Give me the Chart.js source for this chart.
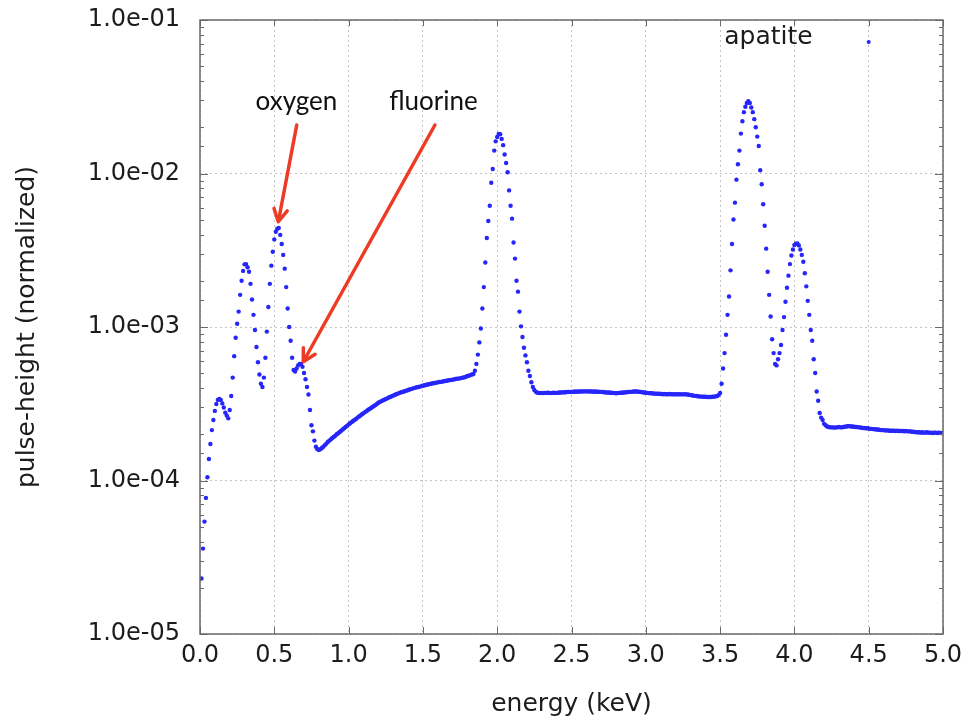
<!DOCTYPE html>
<html>
<head>
<meta charset="utf-8">
<title>apatite pulse-height spectrum</title>
<script src="https://cdn.jsdelivr.net/npm/chart.js@4.4.1/dist/chart.umd.min.js"></script>
<style>
  html, body { margin: 0; padding: 0; background: #fff; }
  canvas { display: block; }
</style>
</head>
<body>
<canvas id="spectrum" width="972" height="719"></canvas>
<script>
// energy channels: first channel at 0.01 keV, 0.01 keV wide
const channelStart = 0.01;
const channelWidth = 0.01;

// 0.01 - 0.80 keV (C, O, F lines)
const lowEnergyCounts = [
    2.3e-5, 3.6e-5, 5.4e-5, 7.7e-5, 1.05e-4, 1.38e-4, 1.73e-4, 2.13e-4, 2.48e-4, 2.84e-4,
    3.15e-4, 3.35e-4, 3.4e-4, 3.35e-4, 3.18e-4, 2.99e-4, 2.77e-4, 2.65e-4, 2.54e-4, 2.88e-4,
    3.55e-4, 4.68e-4, 6.46e-4, 8.51e-4, 1.05e-3, 1.26e-3, 1.62e-3, 2.0e-3, 2.32e-3, 2.56e-3,
    2.57e-3, 2.45e-3, 2.29e-3, 1.91e-3, 1.51e-3, 1.2e-3, 9.55e-4, 7.41e-4, 5.89e-4, 4.9e-4,
    4.27e-4, 4.07e-4, 4.68e-4, 6.31e-4, 9.33e-4, 1.35e-3, 1.91e-3, 2.51e-3, 3.09e-3, 3.72e-3,
    4.17e-3, 4.37e-3, 4.42e-3, 3.98e-3, 3.47e-3, 2.95e-3, 2.4e-3, 1.82e-3, 1.32e-3, 1.0e-3,
    8.13e-4, 6.31e-4, 5.25e-4, 5.13e-4, 5.37e-4, 5.62e-4, 5.75e-4, 5.75e-4, 5.5e-4, 5.01e-4,
    4.57e-4, 4.07e-4, 3.63e-4, 2.88e-4, 2.29e-4, 2.09e-4, 1.82e-4, 1.66e-4, 1.6e-4, 1.58e-4
];

// 0.81 - 1.84 keV continuum
const continuumCounts = [
    1.6e-4, 1.63e-4, 1.66e-4, 1.7e-4, 1.74e-4, 1.78e-4, 1.82e-4, 1.85e-4, 1.89e-4, 1.92e-4,
    1.96e-4, 2.0e-4, 2.03e-4, 2.07e-4, 2.11e-4, 2.15e-4, 2.19e-4, 2.23e-4, 2.27e-4, 2.32e-4,
    2.36e-4, 2.4e-4, 2.44e-4, 2.48e-4, 2.52e-4, 2.57e-4, 2.61e-4, 2.65e-4, 2.7e-4, 2.74e-4,
    2.79e-4, 2.83e-4, 2.88e-4, 2.92e-4, 2.96e-4, 3.01e-4, 3.06e-4, 3.1e-4, 3.15e-4, 3.21e-4,
    3.25e-4, 3.29e-4, 3.32e-4, 3.36e-4, 3.39e-4, 3.43e-4, 3.47e-4, 3.5e-4, 3.54e-4, 3.57e-4,
    3.61e-4, 3.65e-4, 3.68e-4, 3.71e-4, 3.74e-4, 3.77e-4, 3.79e-4, 3.83e-4, 3.85e-4, 3.89e-4,
    3.92e-4, 3.94e-4, 3.97e-4, 4.0e-4, 4.03e-4, 4.05e-4, 4.07e-4, 4.09e-4, 4.12e-4, 4.14e-4,
    4.17e-4, 4.19e-4, 4.22e-4, 4.24e-4, 4.26e-4, 4.28e-4, 4.3e-4, 4.32e-4, 4.34e-4, 4.36e-4,
    4.38e-4, 4.39e-4, 4.41e-4, 4.43e-4, 4.45e-4, 4.47e-4, 4.49e-4, 4.51e-4, 4.52e-4, 4.54e-4,
    4.56e-4, 4.58e-4, 4.6e-4, 4.61e-4, 4.63e-4, 4.66e-4, 4.68e-4, 4.71e-4, 4.74e-4, 4.79e-4,
    4.82e-4, 4.86e-4, 4.9e-4, 4.94e-4
];

// 1.85 - 2.27 keV (P K line)
const phosphorusCounts = [
    5.19e-4, 5.75e-4, 6.61e-4, 7.94e-4, 9.77e-4, 1.32e-3, 1.82e-3, 2.63e-3, 3.8e-3, 4.9e-3,
    6.17e-3, 8.71e-3, 1.07e-2, 1.41e-2, 1.62e-2, 1.73e-2, 1.81e-2, 1.8e-2, 1.68e-2, 1.53e-2,
    1.33e-2, 1.17e-2, 1.02e-2, 7.76e-3, 6.17e-3, 5.08e-3, 3.55e-3, 2.79e-3, 2.0e-3, 1.7e-3,
    1.26e-3, 1.01e-3, 8.61e-4, 7.33e-4, 6.53e-4, 5.89e-4, 5.19e-4, 4.79e-4, 4.37e-4, 4.07e-4,
    3.89e-4, 3.78e-4, 3.73e-4
];

// 2.28 - 3.48 keV plateau
const plateauCounts = [
    3.72e-4, 3.71e-4, 3.72e-4, 3.71e-4, 3.72e-4, 3.72e-4, 3.73e-4, 3.72e-4, 3.71e-4, 3.72e-4,
    3.73e-4, 3.72e-4, 3.72e-4, 3.73e-4, 3.74e-4, 3.74e-4, 3.75e-4, 3.76e-4, 3.76e-4, 3.77e-4,
    3.78e-4, 3.77e-4, 3.78e-4, 3.79e-4, 3.79e-4, 3.8e-4, 3.79e-4, 3.8e-4, 3.8e-4, 3.81e-4,
    3.8e-4, 3.81e-4, 3.81e-4, 3.8e-4, 3.81e-4, 3.8e-4, 3.8e-4, 3.79e-4, 3.8e-4, 3.79e-4,
    3.79e-4, 3.78e-4, 3.78e-4, 3.77e-4, 3.76e-4, 3.75e-4, 3.74e-4, 3.74e-4, 3.73e-4, 3.73e-4,
    3.72e-4, 3.71e-4, 3.7e-4, 3.71e-4, 3.72e-4, 3.73e-4, 3.73e-4, 3.74e-4, 3.75e-4, 3.76e-4,
    3.77e-4, 3.78e-4, 3.78e-4, 3.79e-4, 3.8e-4, 3.8e-4, 3.8e-4, 3.79e-4, 3.78e-4, 3.77e-4,
    3.75e-4, 3.74e-4, 3.73e-4, 3.72e-4, 3.71e-4, 3.7e-4, 3.7e-4, 3.69e-4, 3.68e-4, 3.68e-4,
    3.67e-4, 3.67e-4, 3.66e-4, 3.66e-4, 3.65e-4, 3.66e-4, 3.65e-4, 3.65e-4, 3.66e-4, 3.65e-4,
    3.65e-4, 3.64e-4, 3.65e-4, 3.65e-4, 3.64e-4, 3.65e-4, 3.64e-4, 3.64e-4, 3.65e-4, 3.64e-4,
    3.63e-4, 3.62e-4, 3.6e-4, 3.59e-4, 3.57e-4, 3.56e-4, 3.55e-4, 3.54e-4, 3.53e-4, 3.52e-4,
    3.52e-4, 3.51e-4, 3.51e-4, 3.5e-4, 3.5e-4, 3.5e-4, 3.5e-4, 3.51e-4, 3.52e-4, 3.53e-4,
    3.55e-4
];

// 3.49 - 4.24 keV (Ca K-alpha and K-beta)
const calciumCounts = [
    3.6e-4, 3.72e-4, 4.27e-4, 5.37e-4, 6.76e-4, 8.91e-4, 1.2e-3, 1.58e-3, 2.34e-3, 3.47e-3,
    5.01e-3, 6.46e-3, 9.12e-3, 1.15e-2, 1.41e-2, 1.82e-2, 2.19e-2, 2.51e-2, 2.72e-2, 2.88e-2,
    2.96e-2, 2.88e-2, 2.69e-2, 2.51e-2, 2.26e-2, 2.0e-2, 1.74e-2, 1.51e-2, 1.05e-2, 8.51e-3,
    6.31e-3, 4.57e-3, 3.24e-3, 2.29e-3, 1.62e-3, 1.17e-3, 8.32e-4, 6.76e-4, 5.75e-4, 5.62e-4,
    6.17e-4, 6.76e-4, 7.64e-4, 9.55e-4, 1.16e-3, 1.46e-3, 1.8e-3, 2.16e-3, 2.57e-3, 2.92e-3,
    3.2e-3, 3.42e-3, 3.49e-3, 3.5e-3, 3.4e-3, 3.2e-3, 2.95e-3, 2.66e-3, 2.24e-3, 1.84e-3,
    1.48e-3, 1.2e-3, 9.55e-4, 8.13e-4, 6.17e-4, 5.01e-4, 3.8e-4, 3.31e-4, 2.75e-4, 2.57e-4,
    2.48e-4, 2.34e-4, 2.29e-4, 2.25e-4, 2.23e-4, 2.22e-4
];

// 4.25 - 5.00 keV tail
const tailCounts = [
    2.22e-4, 2.22e-4, 2.21e-4, 2.22e-4, 2.22e-4, 2.23e-4, 2.22e-4, 2.22e-4, 2.23e-4, 2.24e-4,
    2.25e-4, 2.26e-4, 2.26e-4, 2.25e-4, 2.25e-4, 2.24e-4, 2.23e-4, 2.23e-4, 2.22e-4, 2.22e-4,
    2.21e-4, 2.2e-4, 2.2e-4, 2.19e-4, 2.19e-4, 2.18e-4, 2.17e-4, 2.17e-4, 2.16e-4, 2.16e-4,
    2.15e-4, 2.15e-4, 2.14e-4, 2.13e-4, 2.13e-4, 2.13e-4, 2.12e-4, 2.12e-4, 2.12e-4, 2.11e-4,
    2.11e-4, 2.11e-4, 2.11e-4, 2.1e-4, 2.11e-4, 2.1e-4, 2.1e-4, 2.1e-4, 2.1e-4, 2.09e-4,
    2.1e-4, 2.09e-4, 2.09e-4, 2.09e-4, 2.08e-4, 2.08e-4, 2.07e-4, 2.06e-4, 2.06e-4, 2.06e-4,
    2.05e-4, 2.06e-4, 2.05e-4, 2.05e-4, 2.06e-4, 2.05e-4, 2.05e-4, 2.05e-4, 2.04e-4, 2.05e-4,
    2.05e-4, 2.04e-4, 2.05e-4, 2.04e-4, 2.04e-4, 2.04e-4
];

const yTickDecades = [1e-5, 1e-4, 1e-3, 1e-2, 1e-1];

// annotations: [energy, value] anchors
const notes = [
    { text: "oxygen", label: [0.649, 2.6e-2], tail: [0.651, 2.07e-2], tip: [0.527, 4.85e-3] },
    { text: "fluorine", label: [1.571, 2.6e-2], tail: [1.581, 2.07e-2], tip: [0.695, 5.94e-4] },
];
const legendDot = [4.5, 7.2e-2];

const allCounts = [].concat(lowEnergyCounts, continuumCounts, phosphorusCounts,
    plateauCounts, calciumCounts, tailCounts);
const points = allCounts.map((v, i) => ({
    x: +(channelStart + i * channelWidth).toFixed(2),
    y: v,
}));

const isDecade = (v) => yTickDecades.some((d) => Math.abs(v / d - 1) < 1e-6);
const fmtExp = (v) => {
    const n = Math.round(Math.log10(v));
    return "1.0e" + (n < 0 ? "-" : "+") + String(Math.abs(n)).padStart(2, "0");
};

const GRID = "#c4c4c4";
const AXIS = "#6a6a6a";
const TEXT = "#1c1c1c";
const RED = "#ee3b26";
const BLUE = "rgb(38,38,250)";

const framePlugin = {
    id: "frame",
    afterDraw(chart) {
        const { ctx, chartArea: a, scales } = chart;
        const x = scales.x, y = scales.y;
        ctx.save();
        // inward tick marks, mirrored on all four sides
        ctx.strokeStyle = AXIS;
        ctx.lineWidth = 1;
        ctx.beginPath();
        y.ticks.forEach((t) => {
            const py = Math.round(y.getPixelForValue(t.value)) + 0.5;
            const len = isDecade(t.value) ? 8 : 4;
            ctx.moveTo(a.left, py); ctx.lineTo(a.left + len, py);
            ctx.moveTo(a.right, py); ctx.lineTo(a.right - len, py);
        });
        x.ticks.forEach((t) => {
            const px = Math.round(x.getPixelForValue(t.value)) + 0.5;
            ctx.moveTo(px, a.bottom); ctx.lineTo(px, a.bottom - 7);
            ctx.moveTo(px, a.top); ctx.lineTo(px, a.top + 6);
        });
        ctx.stroke();
        ctx.lineWidth = 1.5;
        ctx.strokeRect(a.left, a.top, a.right - a.left, a.bottom - a.top);

        // key
        const kx = x.getPixelForValue(legendDot[0]);
        const ky = y.getPixelForValue(legendDot[1]);
        ctx.fillStyle = TEXT;
        ctx.font = "25px 'DejaVu Sans'";
        ctx.textAlign = "right";
        ctx.textBaseline = "middle";
        ctx.fillText(chart.data.datasets[0].label, kx - 56, ky - 4);
        ctx.fillStyle = BLUE;
        ctx.beginPath();
        ctx.arc(kx, ky, 2, 0, Math.PI * 2);
        ctx.fill();

        // arrows with labels
        notes.forEach((n) => {
            const lx = x.getPixelForValue(n.label[0]), ly = y.getPixelForValue(n.label[1]);
            const tx = x.getPixelForValue(n.tail[0]), ty = y.getPixelForValue(n.tail[1]);
            const hx = x.getPixelForValue(n.tip[0]), hy = y.getPixelForValue(n.tip[1]);
            ctx.fillStyle = "#111";
            ctx.font = "26px Lato";
            ctx.textAlign = "center";
            ctx.textBaseline = "alphabetic";
            ctx.fillText(n.text, lx, ly);

            const ang = Math.atan2(hy - ty, hx - tx);
            ctx.strokeStyle = RED;
            ctx.lineWidth = 3.5;
            ctx.lineCap = "round";
            ctx.lineJoin = "round";
            ctx.beginPath();
            ctx.moveTo(tx, ty);
            ctx.lineTo(hx - Math.cos(ang) * 2, hy - Math.sin(ang) * 2);
            ctx.stroke();
            const head = 14, spread = 0.5;
            ctx.beginPath();
            ctx.moveTo(hx - head * Math.cos(ang - spread), hy - head * Math.sin(ang - spread));
            ctx.lineTo(hx, hy);
            ctx.lineTo(hx - head * Math.cos(ang + spread), hy - head * Math.sin(ang + spread));
            ctx.stroke();
        });
        ctx.restore();
    },
};

new Chart(document.getElementById("spectrum"), {
    type: "scatter",
    data: {
        datasets: [
            {
                label: "apatite",
                data: points,
                showLine: false,
                pointRadius: 2.2,
                pointBorderWidth: 0,
                pointBackgroundColor: BLUE,
                pointBorderColor: BLUE,
            },
        ],
    },
    options: {
        responsive: false,
        animation: false,
        layout: { padding: { top: 20, right: 29, left: 0, bottom: 0 } },
        plugins: {
            legend: { display: false },
            tooltip: { enabled: false },
        },
        scales: {
            x: {
                type: "linear",
                min: 0,
                max: 5,
                afterFit: (s) => {
                    s.height = 85;
                    s.paddingLeft = 0;
                    s.paddingRight = 0;
                },
                ticks: {
                    stepSize: 0.5,
                    padding: 7,
                    color: TEXT,
                    font: { family: "'DejaVu Sans'", size: 24 },
                    callback: (v) => v.toFixed(1),
                },
                grid: { color: GRID, lineWidth: 1, drawTicks: false },
                border: { display: false, dash: [2, 3] },
                title: {
                    display: true,
                    text: "energy (keV)",
                    color: TEXT,
                    font: { family: "'DejaVu Sans'", size: 25 },
                    padding: { top: 0, bottom: 0 },
                },
            },
            y: {
                type: "logarithmic",
                min: 1e-5,
                max: 1e-1,
                afterFit: (s) => {
                    s.width = 200;
                    s.paddingTop = 0;
                    s.paddingBottom = 0;
                },
                ticks: {
                    autoSkip: false,
                    padding: 20,
                    color: TEXT,
                    font: { family: "'DejaVu Sans'", size: 24 },
                    callback: (v) => (isDecade(v) ? fmtExp(v) : ""),
                },
                grid: {
                    color: (c) => (c.tick && isDecade(c.tick.value) ? GRID : "rgba(0,0,0,0)"),
                    lineWidth: 1,
                    drawTicks: false,
                },
                border: { display: false, dash: [2, 3] },
                title: {
                    display: true,
                    text: "pulse-height (normalized)",
                    color: TEXT,
                    font: { family: "'DejaVu Sans'", size: 25 },
                    padding: { top: 12, bottom: 0 },
                },
            },
        },
    },
    plugins: [framePlugin],
});
</script>
</body>
</html>
